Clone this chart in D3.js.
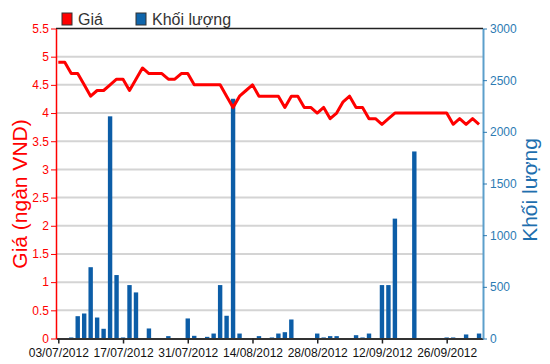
<!DOCTYPE html>
<html>
<head>
<meta charset="utf-8">
<script src="https://cdn.jsdelivr.net/npm/d3@7"></script>
<style>
body { margin: 0; background: #fff; }
text { font-family: "Liberation Sans Narrow", "Liberation Sans", Arial, sans-serif; }
</style>
</head>
<body>
<div id="chart"></div>
<script>
// trading days (03/09 holiday skipped)
var dates = ["03/07/2012","04/07/2012","05/07/2012","06/07/2012","09/07/2012","10/07/2012","11/07/2012","12/07/2012","13/07/2012","16/07/2012",
  "17/07/2012","18/07/2012","19/07/2012","20/07/2012","23/07/2012","24/07/2012","25/07/2012","26/07/2012","27/07/2012","30/07/2012",
  "31/07/2012","01/08/2012","02/08/2012","03/08/2012","06/08/2012","07/08/2012","08/08/2012","09/08/2012","10/08/2012","13/08/2012",
  "14/08/2012","15/08/2012","16/08/2012","17/08/2012","20/08/2012","21/08/2012","22/08/2012","23/08/2012","24/08/2012","27/08/2012",
  "28/08/2012","29/08/2012","30/08/2012","31/08/2012","04/09/2012","05/09/2012","06/09/2012","07/09/2012","10/09/2012","11/09/2012",
  "12/09/2012","13/09/2012","14/09/2012","17/09/2012","18/09/2012","19/09/2012","20/09/2012","21/09/2012","24/09/2012","25/09/2012",
  "26/09/2012","27/09/2012","28/09/2012","01/10/2012","02/10/2012","03/10/2012"];

// giá (ngàn VND)
var prices = [4.9,4.9,4.7,4.7,4.5,4.3,4.4,4.4,4.5,4.6,
  4.6,4.4,4.6,4.8,4.7,4.7,4.7,4.6,4.6,4.7,
  4.7,4.5,4.5,4.5,4.5,4.5,4.3,4.1,4.3,4.4,
  4.5,4.3,4.3,4.3,4.3,4.1,4.3,4.3,4.1,4.1,
  4.0,4.1,3.9,4.0,4.2,4.3,4.1,4.1,3.9,3.9,
  3.8,3.9,4.0,4.0,4.0,4.0,4.0,4.0,4.0,4.0,
  4.0,3.8,3.9,3.8,3.9,3.8];

// khối lượng
var volumes = [0,0,10,216,242,690,203,94,2150,614,
  10,517,446,0,97,0,0,23,0,0,
  194,26,0,16,48,517,220,2320,48,0,
  0,23,0,10,48,61,184,0,0,0,
  48,10,23,23,0,0,32,10,48,0,
  517,517,1160,0,0,1810,0,0,0,0,
  10,10,0,39,0,48];

var priceTicks = [0,0.5,1,1.5,2,2.5,3,3.5,4,4.5,5,5.5];
var volTicks = [0,500,1000,1500,2000,2500,3000];
var dateTicks = [0,10,20,30,40,50,60];

var width = 550, height = 364;
var margin = {top: 28.5, right: 67, bottom: 25.5, left: 56};

var svg = d3.select("#chart").append("svg")
  .attr("width", width)
  .attr("height", height);

var x = d3.scaleLinear()
  .domain([-0.355, 65.61])
  .range([margin.left, width - margin.right]);

var yPrice = d3.scaleLinear()
  .domain([0, 5.5])
  .range([height - margin.bottom, margin.top]);

var yVol = d3.scaleLinear()
  .domain([0, 3000])
  .range([height - margin.bottom, margin.top]);

// grid lines
svg.append("g")
  .selectAll("line")
  .data(priceTicks.slice(1, -1))
  .enter()
  .append("line")
  .attr("x1", margin.left)
  .attr("x2", width - margin.right)
  .attr("y1", d => yPrice(d))
  .attr("y2", d => yPrice(d))
  .style("stroke", "#d4d4d4")
  .style("stroke-width", 2);

// top border
svg.append("line")
  .attr("x1", margin.left)
  .attr("x2", width - margin.right)
  .attr("y1", yPrice(5.5))
  .attr("y2", yPrice(5.5))
  .style("stroke", "#222")
  .style("stroke-width", 1.5);

// volume bars
svg.selectAll("rect.bar")
  .data(volumes)
  .enter()
  .append("rect")
  .attr("class", "bar")
  .attr("x", (d, i) => x(i) - 2.2)
  .attr("width", 4.4)
  .attr("y", d => yVol(d))
  .attr("height", d => yVol(0) - yVol(d))
  .style("fill", "#0c5da7");

// price line
var line = d3.line()
  .x((d, i) => x(i))
  .y(d => yPrice(d));

svg.append("path")
  .datum(prices)
  .attr("d", line)
  .style("fill", "none")
  .style("stroke", "#ff0000")
  .style("stroke-width", 3)
  .style("stroke-linejoin", "round");

// x axis
var xAxis = d3.axisBottom(x)
  .tickValues(dateTicks)
  .tickSize(5)
  .tickSizeOuter(0)
  .tickFormat(i => dates[i]);

var gx = svg.append("g")
  .attr("transform", `translate(0, ${yPrice(0)})`)
  .call(xAxis);
gx.select(".domain").style("stroke", "#333").style("stroke-width", 2);
gx.selectAll(".tick line").style("stroke", "#222").style("stroke-width", 1.5);
gx.selectAll(".tick text")
  .attr("y", 10)
  .style("font-size", "12px")
  .style("fill", "#111");

// left axis
var gl = svg.append("g")
  .attr("transform", `translate(${margin.left}, 0)`)
  .call(d3.axisLeft(yPrice).tickValues(priceTicks).tickSize(5).tickSizeOuter(0).tickFormat(d3.format("")));
gl.select(".domain").style("stroke", "#ff0000").style("stroke-width", 1.5);
gl.selectAll(".tick line").style("stroke", "#ff0000");
gl.selectAll(".tick text")
  .attr("x", -7)
  .style("font-size", "12px")
  .style("fill", "#ff0000");

// right axis
var gr = svg.append("g")
  .attr("transform", `translate(${width - margin.right}, 0)`)
  .call(d3.axisRight(yVol).tickValues(volTicks).tickSize(4).tickSizeOuter(0).tickFormat(d3.format("d")));
gr.select(".domain").style("stroke", "#5c9fcb").style("stroke-width", 2);
gr.selectAll(".tick line").style("stroke", "#2d7bb3");
gr.selectAll(".tick text")
  .attr("x", 7)
  .style("font-size", "12px")
  .style("fill", "#2d7bb3");

// axis titles
svg.append("text")
  .attr("transform", "translate(27, 194) rotate(-90)")
  .style("text-anchor", "middle")
  .style("font-family", "Liberation Sans, Arial, sans-serif")
  .style("font-size", "21px")
  .style("fill", "#ff0000")
  .text("Giá (ngàn VND)");

svg.append("text")
  .attr("transform", "translate(537, 190) rotate(-90)")
  .style("text-anchor", "middle")
  .style("font-family", "Liberation Sans, Arial, sans-serif")
  .style("font-size", "21px")
  .style("fill", "#1f6fae")
  .text("Khối lượng");

// legend
var legend = [["Giá", "#ff0000", 62], ["Khối lượng", "#0f65ab", 136]];
var lg = svg.selectAll("g.legend")
  .data(legend)
  .enter()
  .append("g")
  .attr("class", "legend")
  .attr("transform", d => `translate(${d[2]}, 13)`);
lg.append("rect")
  .attr("width", 10)
  .attr("height", 12)
  .style("fill", d => d[1])
  .style("stroke", "#333")
  .style("stroke-width", 1);
lg.append("text")
  .attr("x", 16)
  .attr("y", 12)
  .style("font-family", "Liberation Sans, Arial, sans-serif")
  .style("font-size", "16px")
  .style("fill", "#333")
  .text(d => d[0]);
</script>
</body>
</html>
